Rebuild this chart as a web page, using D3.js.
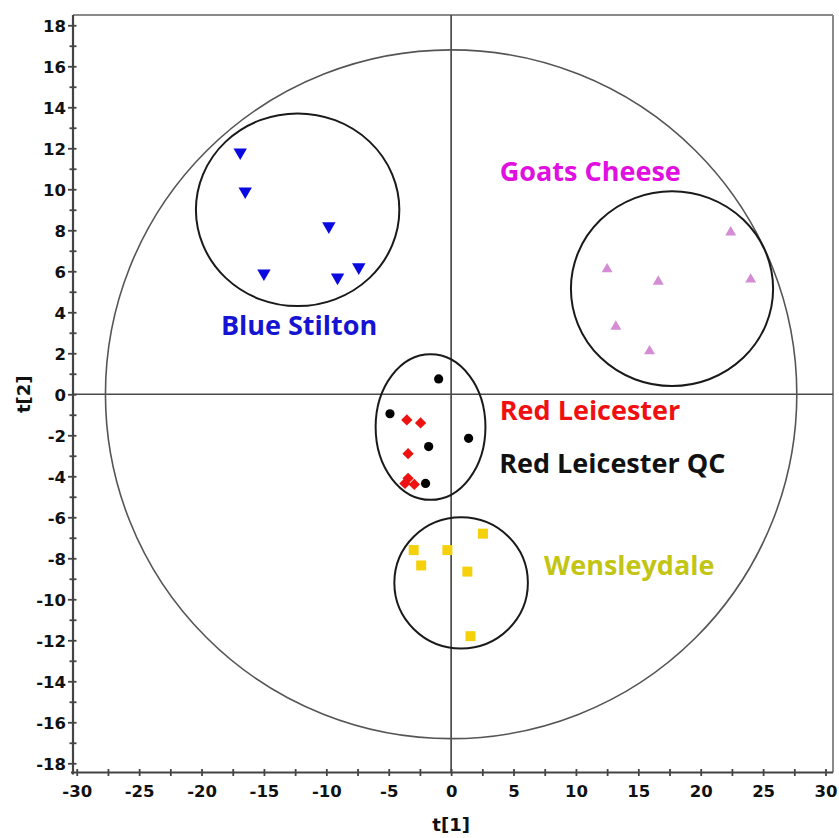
<!DOCTYPE html>
<html>
<head>
<meta charset="utf-8">
<script src="https://cdn.jsdelivr.net/npm/d3@7"></script>
<style>
  html, body { margin: 0; padding: 0; background: #fff; }
  svg { display: block; }
</style>
</head>
<body>
<svg id="chart" width="839" height="838"></svg>
<script>
// ---------- data ----------
const groups = ["Blue Stilton", "Goats Cheese", "Red Leicester", "Red Leicester QC", "Wensleydale"];

const blueStiltonX = [-16.9, -16.5, -9.8, -15.0, -9.1, -7.4];
const blueStiltonY = [11.8, 9.9, 8.2, 5.9, 5.7, 6.2];

const goatsCheeseX = [22.4, 12.5, 16.6, 24.0, 13.2, 15.9];
const goatsCheeseY = [7.9, 6.1, 5.5, 5.6, 3.3, 2.1];

const redLeicesterX = [-3.55, -2.45, -3.45, -3.45, -3.7, -2.95];
const redLeicesterY = [-1.25, -1.4, -2.9, -4.1, -4.35, -4.4];

const redLeicesterQCX = [-1.0, -4.9, -1.8, 1.4, -2.05];
const redLeicesterQCY = [0.75, -0.95, -2.55, -2.15, -4.35];

const wensleydaleX = [-3.0, -2.4, -0.3, 2.55, 1.3, 1.55];
const wensleydaleY = [-7.6, -8.35, -7.6, -6.8, -8.65, -11.8];

// group ellipses: centre x, centre y, radius x, radius y (data units)
const groupEllipseCX = [-12.3, 17.7, -1.65, 0.8];
const groupEllipseCY = [9.0, 5.15, -1.6, -9.2];
const groupEllipseRX = [8.15, 8.1, 4.4, 5.35];
const groupEllipseRY = [4.7, 4.75, 3.55, 3.2];

// Hotelling T2 ellipse
const t2RX = 27.7;
const t2RY = 16.8;

const xTicks = [-30, -25, -20, -15, -10, -5, 0, 5, 10, 15, 20, 25, 30];
const yTicks = [-18, -16, -14, -12, -10, -8, -6, -4, -2, 0, 2, 4, 6, 8, 10, 12, 14, 16, 18];
const xAxisLabel = "t[1]";
const yAxisLabel = "t[2]";

// ---------- layout ----------
const svg = d3.select("#chart");
const L = 73, R = 833, T = 15, B = 772.5;
const x = d3.scaleLinear().domain([-30.3, 30.6]).range([L, R]);
const y = d3.scaleLinear().domain([-18.45, 18.5]).range([B, T]);
const FONT = "'Open Sans', 'Noto Sans', sans-serif";
const AXFONT = "'DejaVu Sans', sans-serif";

// frame (top/right lighter)
svg.append("line").attr("x1", L).attr("x2", R).attr("y1", T).attr("y2", T)
  .attr("stroke", "#8a8a8a").attr("stroke-width", 2);
svg.append("line").attr("x1", R).attr("x2", R).attr("y1", T).attr("y2", B)
  .attr("stroke", "#8a8a8a").attr("stroke-width", 2);

// zero lines
svg.append("line").attr("x1", x(0)).attr("x2", x(0)).attr("y1", T).attr("y2", B)
  .attr("stroke", "#4a4a4a").attr("stroke-width", 1.7);
svg.append("line").attr("x1", L).attr("x2", R).attr("y1", y(0)).attr("y2", y(0))
  .attr("stroke", "#4a4a4a").attr("stroke-width", 1.7);

// Hotelling ellipse
svg.append("ellipse")
  .attr("cx", x(0)).attr("cy", y(0))
  .attr("rx", x(t2RX) - x(0)).attr("ry", y(0) - y(t2RY))
  .attr("fill", "none").attr("stroke", "#555").attr("stroke-width", 1.6);

// group ellipses
svg.append("g").selectAll("ellipse")
  .data(groupEllipseCX.map((cx, i) => ({ cx, cy: groupEllipseCY[i], rx: groupEllipseRX[i], ry: groupEllipseRY[i] })))
  .join("ellipse")
  .attr("cx", d => x(d.cx)).attr("cy", d => y(d.cy))
  .attr("rx", d => x(d.cx + d.rx) - x(d.cx)).attr("ry", d => y(d.cy - d.ry) - y(d.cy))
  .attr("fill", "none").attr("stroke", "#1a1a1a").attr("stroke-width", 2);

// axes
const xAxis = d3.axisBottom(x).tickValues(d3.range(-30, 30.01, 2.5)).tickSize(0).tickFormat("");
const yAxis = d3.axisLeft(y).tickValues(d3.range(-18, 18.01, 1)).tickSize(0).tickFormat("");

const gx = svg.append("g").attr("transform", `translate(0,${B})`).call(xAxis);
gx.select(".domain").attr("stroke", "#444").attr("stroke-width", 2.2).attr("d", `M${L - 2},0H${R}`);
gx.selectAll(".tick line").attr("stroke", "#444").attr("stroke-width", 1.8).attr("y1", -3.5).attr("y2", 3.5);
gx.selectAll(".tick")
  .filter(d => xTicks.includes(d))
  .append("text")
  .attr("y", 24.5).attr("fill", "#111")
  .attr("font-family", AXFONT).attr("font-weight", 700).attr("font-size", 16.5)
  .attr("text-anchor", "middle")
  .text(d => d);

const gy = svg.append("g").attr("transform", `translate(${L},0)`).call(yAxis);
gy.select(".domain").attr("stroke", "#444").attr("stroke-width", 2.2).attr("d", `M0,${T}V${B + 2}`);
gy.selectAll(".tick line").attr("stroke", "#444").attr("stroke-width", 1.8).attr("x1", -3.5).attr("x2", 3.5);
gy.selectAll(".tick")
  .filter(d => yTicks.includes(d))
  .append("text")
  .attr("x", -7).attr("dy", "0.36em").attr("fill", "#111")
  .attr("font-family", AXFONT).attr("font-weight", 700).attr("font-size", 16.5)
  .attr("text-anchor", "end")
  .text(d => d);
gy.selectAll(".tick").filter(d => yTicks.includes(d)).select("line").attr("x1", -5);

// axis titles
svg.append("text").attr("x", x(0)).attr("y", 831)
  .attr("text-anchor", "middle").attr("font-family", AXFONT).attr("font-weight", 700)
  .attr("font-size", 18).attr("fill", "#111").text(xAxisLabel);
svg.append("text").attr("transform", `translate(30,${y(0)}) rotate(-90)`)
  .attr("text-anchor", "middle").attr("font-family", AXFONT).attr("font-weight", 700)
  .attr("font-size", 18).attr("fill", "#111").text(yAxisLabel);

// ---------- points ----------
function pts(xs, ys) { return xs.map((v, i) => ({ x: v, y: ys[i] })); }

// Blue Stilton: down triangles
const triDown = d3.symbol().type(d3.symbolTriangle).size(78);
svg.append("g").selectAll("path").data(pts(blueStiltonX, blueStiltonY)).join("path")
  .attr("d", triDown)
  .attr("transform", d => `translate(${x(d.x)},${y(d.y)}) rotate(180)`)
  .attr("fill", "#0a0ae0");

// Goats Cheese: up triangles
const triUp = d3.symbol().type(d3.symbolTriangle).size(52);
svg.append("g").selectAll("path").data(pts(goatsCheeseX, goatsCheeseY)).join("path")
  .attr("d", triUp)
  .attr("transform", d => `translate(${x(d.x)},${y(d.y)})`)
  .attr("fill", "#d48cd4");

// Wensleydale: squares
const sq = d3.symbol().type(d3.symbolSquare).size(100);
svg.append("g").selectAll("path").data(pts(wensleydaleX, wensleydaleY)).join("path")
  .attr("d", sq)
  .attr("transform", d => `translate(${x(d.x)},${y(d.y)})`)
  .attr("fill", "#f5d10c");

// Red Leicester: diamonds
const dia = d3.symbol().type(d3.symbolSquare).size(64);
svg.append("g").selectAll("path").data(pts(redLeicesterX, redLeicesterY)).join("path")
  .attr("d", dia)
  .attr("transform", d => `translate(${x(d.x)},${y(d.y)}) rotate(45)`)
  .attr("fill", "#ee1111");

// Red Leicester QC: black circles
svg.append("g").selectAll("circle").data(pts(redLeicesterQCX, redLeicesterQCY)).join("circle")
  .attr("cx", d => x(d.x)).attr("cy", d => y(d.y)).attr("r", 4.6)
  .attr("fill", "#000");

// ---------- group labels ----------
const labelX = [-18.45, 3.9, 3.9, 3.85, 7.45];
const labelY = [2.9, 10.4, -1.25, -3.85, -8.8];
const labelColor = ["#1414d2", "#e010e0", "#f01010", "#111111", "#c3c514"];
svg.append("g").selectAll("text").data(groups).join("text")
  .attr("x", (d, i) => x(labelX[i])).attr("y", (d, i) => y(labelY[i]))
  .attr("fill", (d, i) => labelColor[i])
  .attr("font-family", FONT).attr("font-weight", 700).attr("font-size", 27)
  .text(d => d);
</script>
</body>
</html>
